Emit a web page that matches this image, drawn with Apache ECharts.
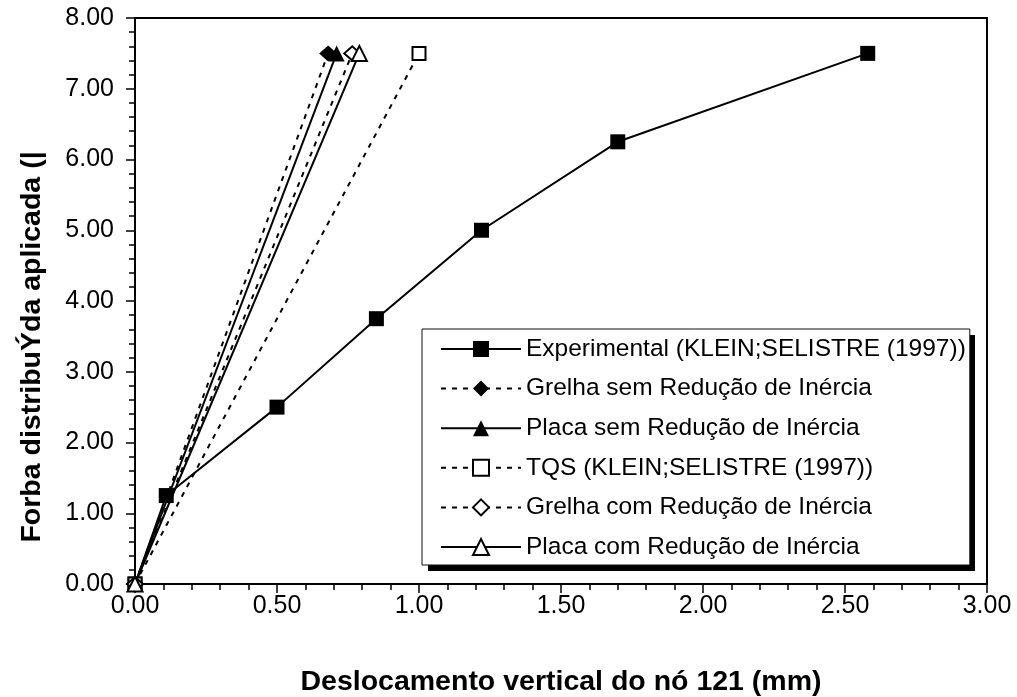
<!DOCTYPE html>
<html>
<head>
<meta charset="utf-8">
<script src="https://cdn.jsdelivr.net/npm/echarts@6/dist/echarts.min.js"></script>
<style>
html,body{margin:0;padding:0;background:#fff;}
#c{width:1017px;height:697px;}
</style>
</head>
<body>
<div id="c"></div>
<script>
// Data
const expX = [0, 0.11, 0.50, 0.85, 1.22, 1.70, 2.58];
const expY = [0, 1.25, 2.50, 3.75, 5.00, 6.25, 7.50];
const grelhaSemX = [0, 0.68];
const grelhaSemY = [0, 7.5];
const placaSemX = [0, 0.71];
const placaSemY = [0, 7.5];
const tqsX = [0, 1.00];
const tqsY = [0, 7.5];
const grelhaComX = [0, 0.765];
const grelhaComY = [0, 7.5];
const placaComX = [0, 0.79];
const placaComY = [0, 7.5];
const seriesNames = [
  'Experimental (KLEIN;SELISTRE (1997))',
  'Grelha sem Redução de Inércia',
  'Placa sem Redução de Inércia',
  'TQS (KLEIN;SELISTRE (1997))',
  'Grelha com Redução de Inércia',
  'Placa com Redução de Inércia'
];
const xTitle = 'Deslocamento vertical do nó 121 (mm)';
const yTitle = 'Forba distribuÝda aplicada (|';

const FONT = 'Arial, "Liberation Sans", sans-serif';
function pts(xs, ys){ return xs.map((x,i)=>[x, ys[i]]); }

const dash = [5, 6];
function mk(name, xs, ys, symbol, size, filled, dashed){
  return {
    name: name,
    type: 'line',
    data: pts(xs, ys),
    symbol: symbol,
    symbolSize: size,
    showAllSymbol: true,
    lineStyle: {color: '#000', width: 2, type: dashed ? dash : 'solid'},
    itemStyle: filled ? {color: '#000', borderColor: '#000', borderWidth: 0}
                      : {color: '#fff', borderColor: '#000', borderWidth: 2},
    z: 3
  };
}

const chart = echarts.init(document.getElementById('c'), null, {renderer: 'canvas'});
chart.setOption({
  animation: false,
  backgroundColor: '#fff',
  grid: {left: 135, right: 30, top: 18, bottom: 113, containLabel: false, outerBoundsMode: 'none',
         show: true, borderColor: '#000', borderWidth: 2, backgroundColor: 'transparent'},
  xAxis: {
    type: 'value', min: 0, max: 3, interval: 0.5,
    name: xTitle, nameLocation: 'middle', nameGap: 84,
    nameTextStyle: {fontFamily: FONT, fontSize: 28.5, fontWeight: 'bold', color: '#000'},
    axisLine: {onZero: false, lineStyle: {color: '#000', width: 2}},
    axisTick: {show: true, length: 9, lineStyle: {color: '#000', width: 1.5}},
    minorTick: {show: true, splitNumber: 5, length: 6, lineStyle: {color: '#000', width: 1.5}},
    splitLine: {show: false},
    axisLabel: {fontFamily: FONT, fontSize: 25, color: '#000', margin: 10, formatter: v => v.toFixed(2)}
  },
  yAxis: {
    type: 'value', min: 0, max: 8, interval: 1,
    axisLine: {onZero: false, lineStyle: {color: '#000', width: 2}},
    axisTick: {show: true, length: 9, lineStyle: {color: '#000', width: 1.5}},
    minorTick: {show: true, splitNumber: 5, length: 6, lineStyle: {color: '#000', width: 1.5}},
    splitLine: {show: false},
    axisLabel: {fontFamily: FONT, fontSize: 25, color: '#000', margin: 21, formatter: v => v.toFixed(2)}
  },
  graphic: [
    {
      type: 'text', x: 32, y: 347, rotation: Math.PI/2,
      style: {text: yTitle, fontFamily: FONT, fontSize: 28.5, fontWeight: 'bold', fill: '#000', align: 'center', verticalAlign: 'middle'},
      z: 10
    },
    {
      // legend drop shadow
      type: 'rect', z: 1, silent: true,
      shape: {x: 428, y: 335, width: 547, height: 236},
      style: {fill: '#000'}
    }
  ],
  legend: {
    orient: 'vertical', left: 422, top: 329,
    padding: [7, 4, 5, 18],
    itemWidth: 80, itemHeight: 20, itemGap: 13.6,
    backgroundColor: '#fff', borderColor: '#111', borderWidth: 1,
    textStyle: {fontFamily: FONT, fontSize: 24.5, color: '#000', lineHeight: 26},
    z: 5,
    data: seriesNames
  },
  series: [
    mk(seriesNames[0], expX, expY, 'rect', 15, true, false),
    mk(seriesNames[1], grelhaSemX, grelhaSemY, 'diamond', [18, 16], true, true),
    mk(seriesNames[2], placaSemX, placaSemY, 'triangle', 16, true, false),
    mk(seriesNames[3], tqsX, tqsY, 'rect', 13, false, true),
    mk(seriesNames[4], grelhaComX, grelhaComY, 'diamond', [16, 14], false, true),
    mk(seriesNames[5], placaComX, placaComY, 'triangle', 15, false, false)
  ]
});
</script>
</body>
</html>
